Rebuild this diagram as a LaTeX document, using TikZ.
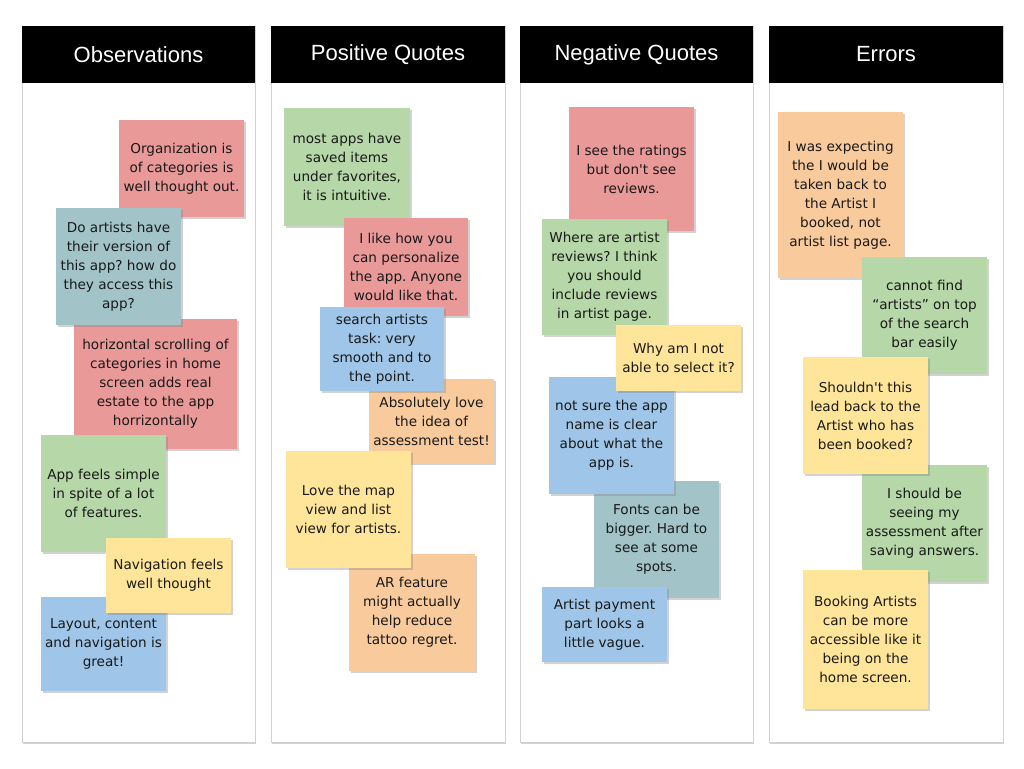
\documentclass[tikz,border=0pt]{standalone}
\usepackage{fontspec}
\setmainfont{DejaVu Sans}[Ligatures=TeXOff]
\newfontfamily\headfont{Liberation Sans}
\usetikzlibrary{shadows}
\definecolor{nred}{HTML}{EA9999}
\definecolor{nteal}{HTML}{A2C4C9}
\definecolor{ngreen}{HTML}{B6D7A8}
\definecolor{nyellow}{HTML}{FFE599}
\definecolor{nblue}{HTML}{9FC5E8}
\definecolor{norange}{HTML}{F9CB9C}
\newcommand\stickyfont{\fontsize{10.2}{14.25}\selectfont\frenchspacing}
\frenchspacing
\begin{document}
\begin{tikzpicture}[x=0.75pt,y=-0.75pt,
  nw/.style={minimum width=#1*0.75pt},
  nh/.style={minimum height=#1*0.75pt},
  note/.style={draw=none, align=center, inner sep=0pt, font=\stickyfont, text=black!90,
    drop shadow={shadow xshift=1.6pt, shadow yshift=-1.6pt, opacity=0.35}},
  panel/.style={fill=white, draw=black!18, line width=0.5pt, inner sep=0pt,
    drop shadow={shadow xshift=0.8pt, shadow yshift=-1.5pt, opacity=0.35}},
  header/.style={fill=black, draw=none, inner sep=0pt, text=white,
    font=\headfont\fontsize{16.5}{18}\selectfont}]
\useasboundingbox (0,0) rectangle (1024,768);
\fill[white] (0,0) rectangle (1024,768);

% panels
\node[panel, nw=233, nh=716] (c1) at (138.5,384) {};
\node[panel, nw=234, nh=716] (c2) at (388,384) {};
\node[panel, nw=233, nh=716] (c3) at (636.5,384) {};
\node[panel, nw=234, nh=716] (c4) at (886,384) {};
\node[header, nw=233, nh=57] (h1) at (138.5,54.5) {Observations};
\node[header, nw=234, nh=57] (h2) at (388,54.5) {Positive Quotes};
\node[header, nw=233, nh=57] (h3) at (636.5,54.5) {Negative Quotes};
\node[header, nw=234, nh=57] (h4) at (886,54.5) {Errors};

% Observations
\node[note, fill=nred, nw=125, nh=97] (o1) at (181.5,168.5) {Organization is\\of categories is\\well thought out.};
\node[note, fill=nred, nw=163, nh=130] (o3) at (155.5,384) {horizontal scrolling of\\categories in home\\screen adds real\\estate to the app\\horrizontally};
\node[note, fill=nteal, nw=125, nh=117] (o2) at (118.5,266.5) {Do artists have\\their version of\\this app? how do\\they access this\\app?};
\node[note, fill=ngreen, nw=125, nh=117] (o4) at (103.5,493.5) {App feels simple\\in spite of a lot\\of features.};
\node[note, fill=nblue, nw=125, nh=94] (o6) at (103.5,644) {Layout, content\\and navigation is\\great!};
\node[note, fill=nyellow, nw=125, nh=75] (o5) at (168.5,575.5) {Navigation feels\\well thought};

% Positive Quotes
\node[note, fill=ngreen, nw=126, nh=118] (p1) at (347,167) {most apps have\\saved items\\under favorites,\\it is intuitive.};
\node[note, fill=nred, nw=124, nh=98] (p2) at (406,267) {I like how you\\can personalize\\the app. Anyone\\would like that.};
\node[note, fill=norange, nw=125, nh=84] (p4) at (431.5,421) {Absolutely love\\the idea of\\assessment test!};
\node[note, fill=nblue, nw=124, nh=84] (p3) at (382,349) {search artists\\task: very\\smooth and to\\the point.};
\node[note, fill=norange, nw=126, nh=117] (p6) at (412,612.5) {AR feature\\might actually\\help reduce\\tattoo regret.};
\node[note, fill=nyellow, nw=125, nh=117] (p5) at (348.5,509.5) {Love the map\\view and list\\view for artists.};

% Negative Quotes
\node[note, fill=nred, nw=125, nh=124] (n1) at (631.5,169) {I see the ratings\\but don't see\\reviews.};
\node[note, fill=ngreen, nw=125, nh=116] (n2) at (604.5,277) {Where are artist\\reviews? I think\\you should\\include reviews\\in artist page.};
\node[note, fill=nteal, nw=125, nh=117] (n5) at (656.5,539.5) {Fonts can be\\bigger. Hard to\\see at some\\spots.};
\node[note, fill=nblue, nw=125, nh=117] (n4) at (611.5,435.5) {not sure the app\\name is clear\\about what the\\app is.};
\node[note, fill=nyellow, nw=125, nh=66] (n3) at (678.5,358) {Why am I not\\able to select it?};
\node[note, fill=nblue, nw=125, nh=75] (n6) at (604.5,624.5) {Artist payment\\part looks a\\little vague.};

% Errors
\node[note, fill=norange, nw=125, nh=166] (e1) at (840.5,195) {I was expecting\\the I would be\\taken back to\\the Artist I\\booked, not\\artist list page.};
\node[note, fill=ngreen, nw=125, nh=117] (e2) at (924.5,315.5) {cannot find\\“artists” on top\\of the search\\bar easily};
\node[note, fill=ngreen, nw=125, nh=117] (e4) at (924.5,523.5) {I should be\\seeing my\\assessment after\\saving answers.};
\node[note, fill=nyellow, nw=125, nh=117] (e3) at (865.5,415.5) {Shouldn't this\\lead back to the\\Artist who has\\been booked?};
\node[note, fill=nyellow, nw=125, nh=139] (e5) at (865.5,639.5) {Booking Artists\\can be more\\accessible like it\\being on the\\home screen.};
\end{tikzpicture}
\end{document}
